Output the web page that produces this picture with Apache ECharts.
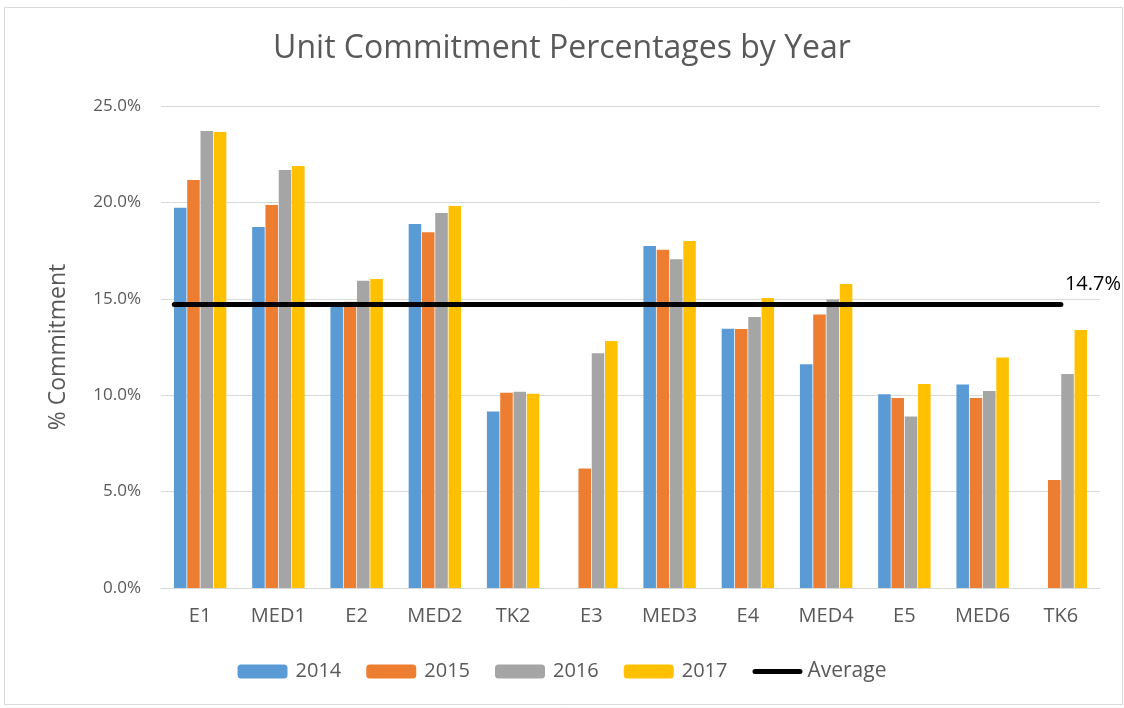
<!DOCTYPE html>
<html><head><meta charset="utf-8">
<script src="https://cdn.jsdelivr.net/npm/echarts@6/dist/echarts.min.js"></script>
<style>html,body{margin:0;padding:0;background:#fff}#c{width:1124px;height:708px}</style>
</head><body><div id="c"></div>
<script>
const categories = ['E1','MED1','E2','MED2','TK2','E3','MED3','E4','MED4','E5','MED6','TK6'];
const v2014 = [19.72, 18.72, 14.7, 18.88, 9.16, null, 17.74, 13.45, 11.6, 10.05, 10.55, null];
const v2015 = [21.16, 19.86, 14.85, 18.45, 10.13, 6.2, 17.55, 13.43, 14.18, 9.85, 9.85, 5.6];
const v2016 = [23.70, 21.68, 15.94, 19.45, 10.18, 12.17, 17.05, 14.06, 14.96, 8.9, 10.22, 11.1];
const v2017 = [23.65, 21.89, 16.03, 19.81, 10.08, 12.81, 18.0, 15.04, 15.77, 10.58, 11.95, 13.38];
const averageValue = 14.7;
const averageSpan = [-0.33, 11];
const yTicks = [0, 5, 10, 15, 20, 25];

const chart = echarts.init(document.getElementById('c'));
const font = 'Open Sans';
const txt = '#595959';
function bar(name, data, color) {
  return { name, type: 'bar', data, itemStyle: { color }, barGap: '6%', barCategoryGap: '33%' };
}
const lineIcon = 'path://M0,0L0.01,0L0.01,0.01ZM2.5,4.5H47.5A2.5,2.5,0,0,1,47.5,9.5H2.5A2.5,2.5,0,0,1,2.5,4.5ZM49.99,14L50,14L50,13.99Z';
chart.setOption({
  animation: false,
  textStyle: { fontFamily: font },
  title: { text: 'Unit Commitment Percentages by Year', left: 'center', top: 28,
    textStyle: { fontFamily: font, fontSize: 32, fontWeight: 'normal', color: txt } },
  graphic: [{ type: 'rect', shape: { x: 4.5, y: 7.5, width: 1118, height: 697 },
    style: { fill: 'none', stroke: '#d9d9d9', lineWidth: 1 }, silent: true }],
  grid: { left: 161, right: 24, top: 106, bottom: 120 },
  legend: { bottom: 21, left: 'center', itemWidth: 50, itemHeight: 14, itemGap: 25,
    textStyle: { fontFamily: font, fontSize: 20, color: txt, padding: [0, 0, 0, 3] },
    data: ['2014', '2015', '2016', '2017',
      { name: 'Average', icon: lineIcon, itemStyle: { color: '#000' },
        textStyle: { padding: [0, 0, 0, 0], fontSize: 21 } }] },
  xAxis: [{ type: 'category', data: categories,
      axisLine: { lineStyle: { color: '#d9d9d9' } }, axisTick: { show: false },
      axisLabel: { fontFamily: font, fontSize: 20, color: txt, margin: 18 } },
    { type: 'value', min: -0.5, max: 11.5, show: false }],
  yAxis: { type: 'value', min: yTicks[0], max: yTicks[yTicks.length - 1], interval: 5,
    name: '% Commitment', nameLocation: 'middle', nameGap: 91,
    nameTextStyle: { fontFamily: font, fontSize: 23, color: txt },
    axisLabel: { fontFamily: font, fontSize: 17, color: txt, margin: 20,
      formatter: v => v.toFixed(1) + '%' },
    splitLine: { lineStyle: { color: '#d9d9d9', width: 1 } },
    axisLine: { show: false }, axisTick: { show: false } },
  series: [
    bar('2014', v2014, '#5B9BD5'),
    bar('2015', v2015, '#ED7D31'),
    bar('2016', v2016, '#A5A5A5'),
    bar('2017', v2017, '#FFC000'),
    { name: 'Average', type: 'line', xAxisIndex: 1, symbol: 'none',
      itemStyle: { color: '#000' },
      lineStyle: { color: '#000', width: 5, cap: 'round' },
      data: [[averageSpan[0], averageValue], [averageSpan[1], averageValue]],
      label: { show: false },
      endLabel: { show: true, formatter: averageValue.toFixed(1) + '%', fontFamily: font,
        fontSize: 20, color: '#000', offset: [-4, -20] },
      z: 5 }
  ]
});
</script></body></html>
